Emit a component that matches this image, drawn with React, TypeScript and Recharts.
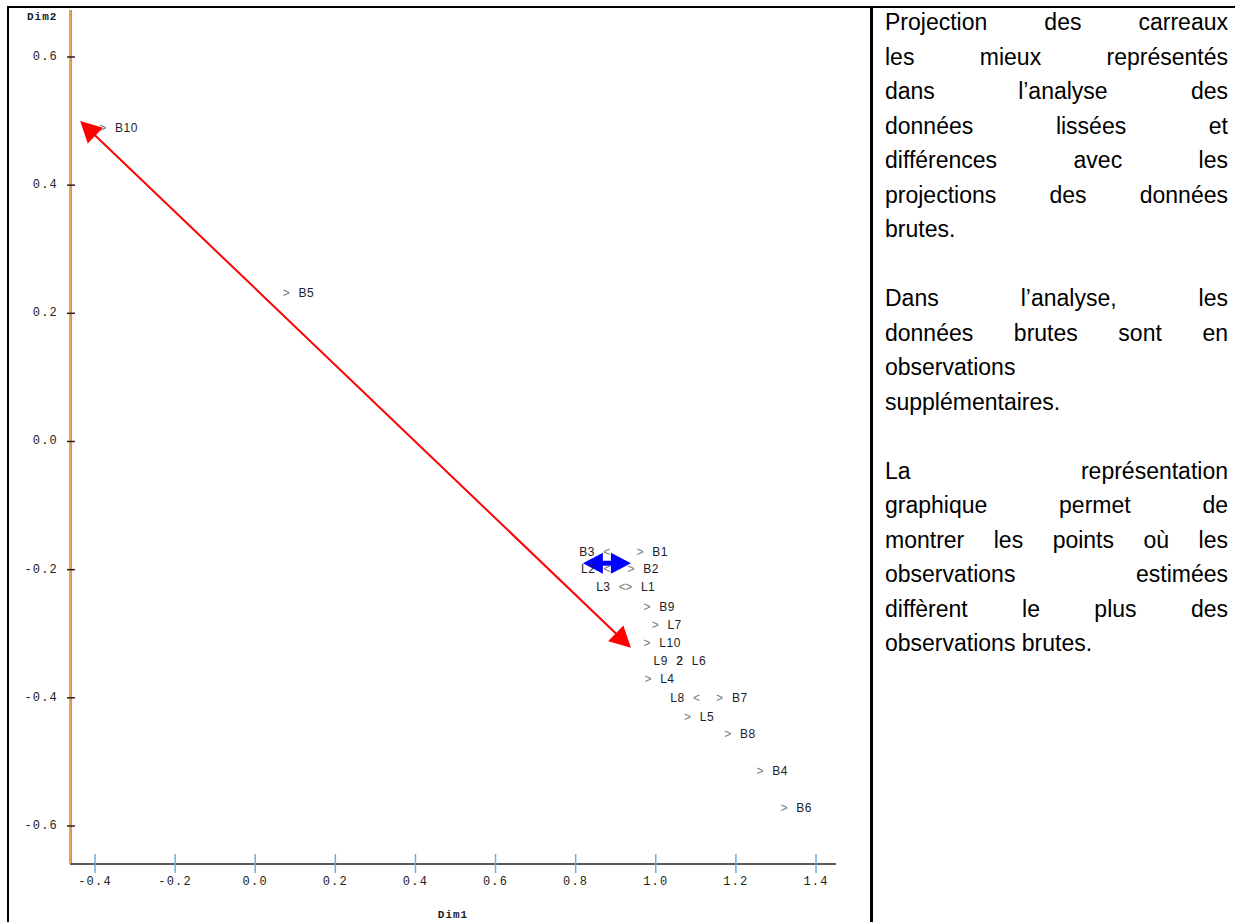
import {
  ReferenceLine,
  Scatter,
  ScatterChart,
  XAxis,
  YAxis,
} from "recharts";

// point names, coordinates on the two dimensions, and which side the name sits on
const names = ["B10", "B5", "B1", "B3", "B2", "L2", "L3", "L1", "B9", "L7", "L10", "L9", "L6", "L4", "L8", "B7", "L5", "B8", "B4", "B6"];
const dim1 = [-0.38, 0.078, 0.961, 0.878, 0.939, 0.879, 0.917, 0.933, 0.979, 0.999, 0.979, 1.06, 1.06, 0.981, 1.102, 1.16, 1.08, 1.18, 1.261, 1.321];
const dim2 = [0.489, 0.231, -0.172, -0.172, -0.199, -0.199, -0.227, -0.227, -0.258, -0.287, -0.315, -0.343, -0.343, -0.371, -0.4, -0.4, -0.43, -0.457, -0.514, -0.572];
const sides = ["r", "r", "r", "l", "r", "l", "l", "r", "r", "r", "r", "l", "r", "r", "l", "r", "r", "r", "r", "r"];

const xTicks = [-0.4, -0.2, 0.0, 0.2, 0.4, 0.6, 0.8, 1.0, 1.2, 1.4];
const yTicks = [-0.6, -0.4, -0.2, 0.0, 0.2, 0.4, 0.6];
const X_MIN = -0.4624;
const X_MAX = 1.4499;
const Y_MIN = -0.6593;
const Y_MAX = 0.6733;

// arrows: [x1, y1, x2, y2]
const redArrow = [-0.437, 0.5, 0.938, -0.322];
const blueArrow = [0.818, -0.19, 0.938, -0.19];

const textLines: { text: string; justify: boolean }[][] = [
  [
    { text: "Projection des carreaux", justify: true },
    { text: "les mieux représentés", justify: true },
    { text: "dans l’analyse des", justify: true },
    { text: "données lissées et", justify: true },
    { text: "différences avec les", justify: true },
    { text: "projections des données", justify: true },
    { text: "brutes.", justify: false },
  ],
  [
    { text: "Dans l’analyse, les", justify: true },
    { text: "données brutes sont en", justify: true },
    { text: "observations", justify: false },
    { text: "supplémentaires.", justify: false },
  ],
  [
    { text: "La représentation", justify: true },
    { text: "graphique permet de", justify: true },
    { text: "montrer les points où les", justify: true },
    { text: "observations estimées", justify: true },
    { text: "diffèrent le plus des", justify: true },
    { text: "observations brutes.", justify: false },
  ],
];

const points = names.map((name, i) => {
  const count = names.filter((_, j) => dim1[j] === dim1[i] && dim2[j] === dim2[i]).length;
  return { name, x: dim1[i], y: dim2[i], side: sides[i], count };
});

const monoFont = "'Liberation Mono', 'DejaVu Sans Mono', monospace";
const labelFont = "'Liberation Sans', Arial, sans-serif";

function PointLabel(props: any) {
  const { cx, cy, payload } = props;
  const mark = payload.count > 1 ? String(payload.count) : payload.side === "r" ? ">" : "<";
  const right = payload.side === "r";
  return (
    <g fontFamily={labelFont} fontSize={12} letterSpacing={0.5}>
      <text x={cx} y={cy} textAnchor="middle" dominantBaseline="central" fill={payload.count > 1 ? "#222" : "#777"}>
        {mark}
      </text>
      <text
        x={right ? cx + 12 : cx - 12}
        y={cy}
        textAnchor={right ? "start" : "end"}
        dominantBaseline="central"
        fill="#1d1d2b"
      >
        {payload.name}
      </text>
    </g>
  );
}

function XTick(props: any) {
  const { x, y, payload } = props;
  return (
    <g>
      <line x1={x} x2={x} y1={y - 28} y2={y - 9} stroke="#6aaee0" strokeWidth={1.5} />
      <text x={x} y={y} textAnchor="middle" dominantBaseline="central" fontFamily={monoFont} fontSize={12} letterSpacing={1.2} fill="#222">
        {payload.value.toFixed(1)}
      </text>
    </g>
  );
}

function YTick(props: any) {
  const { x, y, payload } = props;
  return (
    <g>
      <line x1={x + 9} x2={x + 17} y1={y} y2={y} stroke="#222" strokeWidth={1.5} />
      <text x={x} y={y} textAnchor="end" dominantBaseline="central" fontFamily={monoFont} fontSize={12} letterSpacing={1.2} fill="#222">
        {payload.value.toFixed(1)}
      </text>
    </g>
  );
}

function arrowShape(color: string, width: number, headLen: number, headHalf: number) {
  return (p: any) => {
    const { x1, y1, x2, y2 } = p;
    const dx = x2 - x1;
    const dy = y2 - y1;
    const len = Math.sqrt(dx * dx + dy * dy);
    const ux = dx / len;
    const uy = dy / len;
    const nx = -uy;
    const ny = ux;
    const head = (tx: number, ty: number, dir: number) => {
      const bx = tx - dir * ux * headLen;
      const by = ty - dir * uy * headLen;
      return `${tx},${ty} ${bx + nx * headHalf},${by + ny * headHalf} ${bx - nx * headHalf},${by - ny * headHalf}`;
    };
    return (
      <g>
        <line
          x1={x1 + ux * headLen * 0.8}
          y1={y1 + uy * headLen * 0.8}
          x2={x2 - ux * headLen * 0.8}
          y2={y2 - uy * headLen * 0.8}
          stroke={color}
          strokeWidth={width}
        />
        <polygon points={head(x1, y1, -1)} fill={color} />
        <polygon points={head(x2, y2, 1)} fill={color} />
      </g>
    );
  };
}

// thin blue line drawn just right of the orange y axis line
const blueAxisEdge = (p: any) => (
  <line x1={p.x1 + 1.5} x2={p.x2 + 1.5} y1={p.y1} y2={p.y2} stroke="#6aaee0" strokeWidth={1} />
);

export default function App() {
  return (
    <div style={{ position: "absolute", left: 0, top: 0, width: 1235, height: 922, background: "#fff", overflow: "hidden" }}>
      {/* table frame */}
      <div style={{ position: "absolute", left: 7, top: 6, width: 1228, height: 2, background: "#000" }} />
      <div style={{ position: "absolute", left: 7, top: 6, width: 2, height: 916, background: "#000" }} />
      <div style={{ position: "absolute", left: 870, top: 6, width: 3, height: 916, background: "#000" }} />

      <div style={{ position: "absolute", left: 0, top: 0 }}>
        <ScatterChart width={870} height={922} margin={{ top: 10, right: 34, bottom: 0, left: 8 }}>
          <XAxis
            type="number"
            dataKey="x"
            domain={[X_MIN, X_MAX]}
            ticks={xTicks}
            interval={0}
            tickSize={0}
            tickMargin={18}
            tickLine={false}
            tick={<XTick />}
            height={58}
            axisLine={{ stroke: "#222", strokeWidth: 1.5 }}
            allowDataOverflow
            label={{ value: "Dim1", position: "insideBottom", offset: 4, fontFamily: monoFont, fontSize: 11, fontWeight: "bold", letterSpacing: 1, fill: "#1d1d2b" }}
          />
          <YAxis
            type="number"
            dataKey="y"
            domain={[Y_MIN, Y_MAX]}
            ticks={yTicks}
            interval={0}
            tickSize={0}
            tickMargin={12}
            tickLine={false}
            tick={<YTick />}
            width={62}
            axisLine={{ stroke: "#e8a35a", strokeWidth: 2 }}
            allowDataOverflow
          />
          <ReferenceLine x={X_MIN} ifOverflow="extendDomain" shape={blueAxisEdge} />
          <Scatter data={points} shape={PointLabel} isAnimationActive={false} />
          <ReferenceLine
            segment={[{ x: redArrow[0], y: redArrow[1] }, { x: redArrow[2], y: redArrow[3] }]}
            shape={arrowShape("#ff0000", 2, 21, 11)}
          />
          <ReferenceLine
            segment={[{ x: blueArrow[0], y: blueArrow[1] }, { x: blueArrow[2], y: blueArrow[3] }]}
            shape={arrowShape("#0000ff", 5, 20, 10.5)}
          />
        </ScatterChart>
      </div>

      <div style={{ position: "absolute", left: 27, top: 11, fontFamily: monoFont, fontSize: 11, fontWeight: "bold", letterSpacing: 1, color: "#1d1d2b" }}>
        Dim2
      </div>

      <div style={{ position: "absolute", left: 885, top: 5, width: 343, fontFamily: labelFont, fontSize: 23, lineHeight: "34.5px", color: "#000" }}>
        {textLines.map((para, pi) => (
          <div key={pi} style={{ marginBottom: pi < textLines.length - 1 ? 34.5 : 0 }}>
            {para.map((line, li) => (
              <div key={li} style={{ textAlign: line.justify ? "justify" : "left", textAlignLast: line.justify ? "justify" : "left", whiteSpace: "nowrap" }}>
                {line.text}
              </div>
            ))}
          </div>
        ))}
      </div>
    </div>
  );
}
